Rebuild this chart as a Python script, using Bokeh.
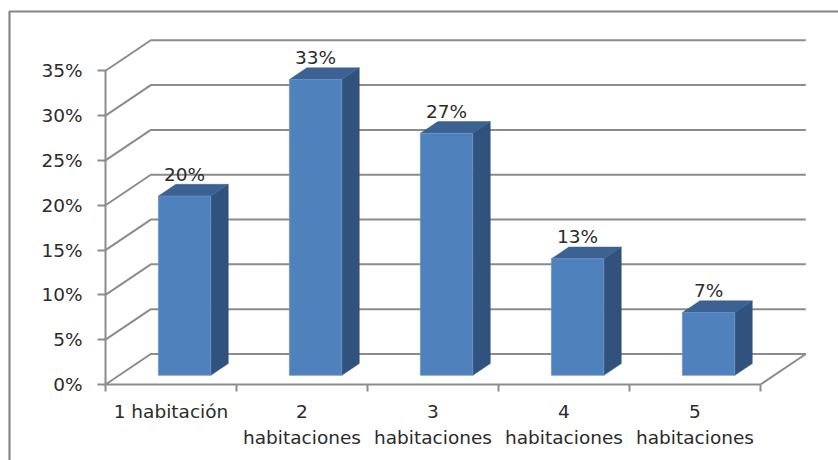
from bokeh.plotting import figure
from bokeh.models import FixedTicker, BoxAnnotation
from bokeh.core.properties import value
from bokeh.embed import file_html
from bokeh.resources import INLINE

categories = ["1 habitación", "2\nhabitaciones", "3\nhabitaciones", "4\nhabitaciones", "5\nhabitaciones"]
shares = [20, 33, 27, 13, 7]
y_ticks = [0, 5, 10, 15, 20, 25, 30, 35]
y_labels = ["0%", "5%", "10%", "15%", "20%", "25%", "30%", "35%"]

FONT = "DejaVu Sans"
FSIZE = "18.5px"
TEXT = "#2b2b2b"
LINE = "#8c8c8c"
PX_X = 131.0
PX_Y = 8.963
DEPTH_X = 45.3 / PX_X
DEPTH_Y = 30.5 / PX_Y
BAR_W = 0.40
BAR_D0, BAR_D1 = 0.30, 0.686
N = len(categories)

def proj(x, v, d):
    return x + d * DEPTH_X, v + d * DEPTH_Y

p = figure(width=838, height=460, output_backend="svg", toolbar_location=None,
           x_range=(-105 / PX_X, 733 / PX_X), y_range=(-76 / PX_Y, 384 / PX_Y),
           min_border=0,
           background_fill_color="white", border_fill_color="white", outline_line_color=None)
p.grid.visible = False

xs, ys = [], []
for t in y_ticks:
    a, b = proj(0, t, 0), proj(0, t, 1)
    c = proj(N, t, 1)
    xs.append([a[0], b[0], c[0]])
    ys.append([a[1], b[1], c[1]])
p.multi_line(xs, ys, line_color=LINE, line_width=2)
a, b = proj(N, 0, 0), proj(N, 0, 1)
p.line([a[0], b[0]], [a[1], b[1]], line_color=LINE, line_width=2)

centers = [i + 0.5 for i in range(N)]
front_x, front_y, top_x, top_y, side_x, side_y = [], [], [], [], [], []
for c, v in zip(centers, shares):
    l, r = c - BAR_W / 2, c + BAR_W / 2
    fl, fb = proj(l, 0, BAR_D0)
    fr, ft = proj(r, v, BAR_D0)
    bl, bb = proj(l, 0, BAR_D1)
    br, bt = proj(r, v, BAR_D1)
    brb = proj(r, 0, BAR_D1)[1]
    front_x.append([fl, fr, fr, fl]); front_y.append([fb, fb, ft, ft])
    top_x.append([fl, fr, br, bl]); top_y.append([ft, ft, bt, bt])
    side_x.append([fr, br, br, fr]); side_y.append([fb, brb, bt, ft])
p.patches(side_x, side_y, fill_color="#31527c", line_color="#31527c", line_width=0.5)
p.patches(top_x, top_y, fill_color="#3b6293", line_color="#3b6293", line_width=0.5)
p.patches(front_x, front_y, fill_color="#4f81bd", line_color="#6a94c8", line_width=0.7)

lab_x = [proj(c, 0, BAR_D0)[0] for c in centers]
lab_y = [proj(c, v, BAR_D0)[1] for c, v in zip(centers, shares)]
p.text(lab_x, lab_y, text=[f"{v}%" for v in shares], text_align="center", text_baseline="alphabetic",
       y_offset=-22, text_font=value(FONT), text_font_size=FSIZE, text_color=TEXT)

ya = p.yaxis[0]
ya.fixed_location = 0
ya.ticker = FixedTicker(ticks=y_ticks)
ya.major_label_overrides = dict(zip(y_ticks, y_labels))
ya.bounds = (0, 35)
ya.major_tick_in = 0
ya.major_tick_out = 8
ya.minor_tick_line_color = None
ya.major_label_standoff = 15
ya.axis_line_color = LINE
ya.axis_line_width = 2
ya.major_tick_line_color = LINE
ya.major_tick_line_width = 2
ya.major_label_text_font = FONT
ya.major_label_text_font_size = FSIZE
ya.major_label_text_color = TEXT

xa = p.xaxis[0]
xa.fixed_location = 0
xa.ticker = FixedTicker(ticks=centers, minor_ticks=list(range(N + 1)))
xa.major_label_overrides = dict(zip(centers, categories))
xa.bounds = (0, N)
xa.major_tick_in = 0
xa.major_tick_out = 0
xa.major_tick_line_color = None
xa.minor_tick_in = 0
xa.minor_tick_out = 7
xa.minor_tick_line_color = LINE
xa.minor_tick_line_width = 2
xa.major_label_standoff = 9
xa.axis_line_color = LINE
xa.axis_line_width = 2
xa.major_label_text_font = FONT
xa.major_label_text_font_size = FSIZE
xa.major_label_text_color = TEXT
xa.major_label_text_line_height = 1.24

p.add_layout(BoxAnnotation(left=9, right=900, top=11, bottom=600,
                           left_units="canvas", right_units="canvas", top_units="canvas", bottom_units="canvas",
                           fill_color=None, fill_alpha=0, line_color="#868686", line_alpha=1, line_width=2.2,
                           editable=False))

open("out.html", "w").write(file_html(p, INLINE))
